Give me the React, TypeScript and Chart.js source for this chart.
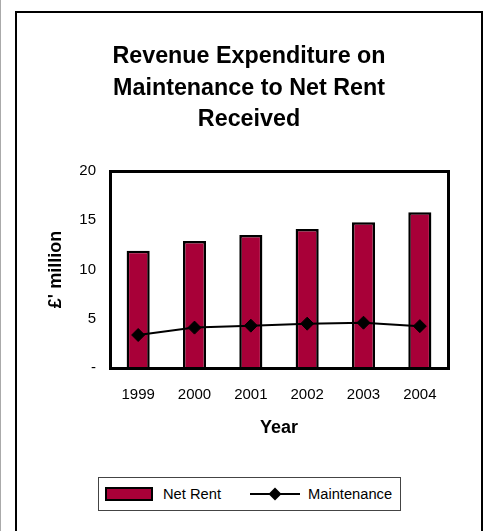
import React, { useEffect, useRef } from "react";
import { Chart, registerables } from "chart.js";

Chart.register(...registerables);

const years = ["1999", "2000", "2001", "2002", "2003", "2004"];
const netRent = [11.9, 12.9, 13.5, 14.1, 14.8, 15.8];
const maintenance = [3.35, 4.1, 4.3, 4.5, 4.6, 4.25];
const titleLines = ["Revenue Expenditure on", "Maintenance to Net Rent", "Received"];
const yTicks = [0, 5, 10, 15, 20];
const netRentLabel = "Net Rent";
const maintenanceLabel = "Maintenance";
const barColor = "#A80038";
const FONT = "'Liberation Sans', Arial, sans-serif";

const plotBorder = {
  id: "plotBorder",
  afterDatasetsDraw(chart: any) {
    const { ctx, chartArea } = chart;
    ctx.save();
    ctx.strokeStyle = "#000";
    ctx.lineWidth = 3;
    ctx.strokeRect(
      Math.round(chartArea.left) + 0.5,
      Math.round(chartArea.top) + 0.5,
      Math.round(chartArea.right - chartArea.left),
      Math.round(chartArea.bottom - chartArea.top)
    );
    ctx.restore();
  },
};

export default function App() {
  const ref = useRef<HTMLCanvasElement | null>(null);

  useEffect(() => {
    if (!ref.current) return;
    const chart = new Chart(ref.current, {
      type: "bar",
      data: {
        labels: years,
        datasets: [
          {
            type: "line",
            label: maintenanceLabel,
            data: maintenance,
            borderColor: "#000",
            backgroundColor: "#000",
            borderWidth: 2,
            pointStyle: "rectRot",
            pointRadius: 6.5,
            pointBorderWidth: 1,
            pointBackgroundColor: "#000",
            pointBorderColor: "#000",
            tension: 0,
            order: 0,
          } as any,
          {
            type: "bar",
            label: netRentLabel,
            data: netRent,
            backgroundColor: barColor,
            borderColor: "#000",
            borderWidth: 2.5,
            barPercentage: 0.41,
            categoryPercentage: 1,
            order: 1,
          },
        ],
      },
      options: {
        animation: false,
        responsive: false,
        maintainAspectRatio: false,
        layout: { padding: { left: 33, right: 33, top: 0, bottom: 4 } },
        plugins: {
          legend: { display: false },
          tooltip: { enabled: false },
          title: {
            display: true,
            text: titleLines,
            color: "#000",
            font: { family: FONT, size: 23.3, weight: "bold", lineHeight: 31.5 / 23.3 },
            padding: { top: 28, bottom: 35.5 },
          },
        },
        scales: {
          x: {
            grid: { display: false, drawTicks: false },
            border: { display: false },
            ticks: {
              color: "#000",
              font: { family: FONT, size: 15 },
              padding: 18,
              maxRotation: 0,
            },
            title: {
              display: true,
              text: "Year",
              color: "#000",
              font: { family: FONT, size: 18, weight: "bold" },
              padding: { top: 0, bottom: 0 },
            },
            afterFit: (scale: any) => {
              scale.height = 71;
            },
          },
          y: {
            min: 0,
            max: 20,
            grid: { display: false, drawTicks: false },
            border: { display: false },
            afterBuildTicks: (scale: any) => {
              scale.ticks = yTicks.map((v) => ({ value: v }));
            },
            ticks: {
              color: "#000",
              font: { family: FONT, size: 15 },
              padding: 14,
              callback: (v: any) => (Number(v) === 0 ? "-" : String(v)),
            },
            title: {
              display: true,
              text: "£' million",
              color: "#000",
              font: { family: FONT, size: 18, weight: "bold" },
              padding: { top: -4.8, bottom: 0 },
            },
            afterFit: (scale: any) => {
              scale.width = 60;
            },
          },
        },
      },
      plugins: [plotBorder],
    });
    return () => chart.destroy();
  }, []);

  return (
    <div
      style={{
        position: "absolute",
        left: 0,
        top: 0,
        width: 488,
        height: 531,
        overflow: "hidden",
        background: "#fff",
        fontFamily: FONT,
      }}
    >
      <div style={{ position: "absolute", left: 0, top: 0, width: 1, height: 531, background: "#aaa" }} />
      <div
        style={{
          position: "absolute",
          left: 15,
          top: 11,
          width: 468,
          height: 540,
          border: "2px solid #000",
          boxSizing: "border-box",
        }}
      />
      <canvas
        ref={ref}
        width={464}
        height={430}
        style={{ position: "absolute", left: 17, top: 13, width: 464, height: 430 }}
      />
      <div
        style={{
          position: "absolute",
          left: 98,
          top: 477,
          width: 303,
          height: 34,
          border: "1px solid #444",
          boxSizing: "border-box",
        }}
      >
        <div
          style={{
            position: "absolute",
            left: 6,
            top: 9,
            width: 48,
            height: 14,
            background: barColor,
            border: "2px solid #000",
            boxSizing: "border-box",
          }}
        />
        <span
          style={{ position: "absolute", left: 64, top: 7, fontSize: 14.7, lineHeight: "18px", color: "#000" }}
        >
          {netRentLabel}
        </span>
        <svg style={{ position: "absolute", left: 151, top: 7 }} width={50} height={18}>
          <line x1={0} y1={9} x2={50} y2={9} stroke="#000" strokeWidth={2} />
          <polygon points="25,2.5 31.5,9 25,15.5 18.5,9" fill="#000" />
        </svg>
        <span
          style={{ position: "absolute", left: 209, top: 7, fontSize: 14.7, lineHeight: "18px", color: "#000" }}
        >
          {maintenanceLabel}
        </span>
      </div>
    </div>
  );
}
